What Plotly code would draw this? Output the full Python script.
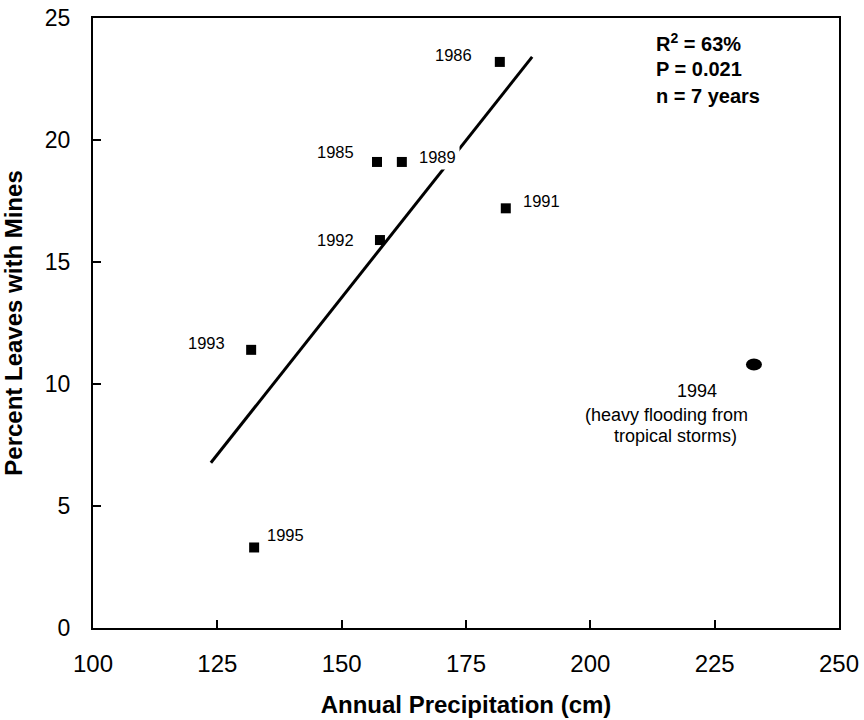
import numpy as np
import plotly.graph_objects as go

years = ["1985", "1986", "1989", "1991", "1992", "1993", "1995"]
precip = [157.1, 181.8, 162.1, 183.0, 157.7, 131.8, 132.4]
pct_mines = [19.1, 23.2, 19.1, 17.2, 15.9, 11.4, 3.3]

# label positions (data units) for each year
label_x = [148.7, 172.4, 169.2, 190.1, 148.7, 122.9, 138.8]
label_y = [19.5, 23.5, 19.3, 17.5, 15.9, 11.7, 3.8]

outlier_year = "1994"
outlier_precip = 232.9
outlier_pct = 10.8
outlier_note = ["1994", "(heavy flooding from", "tropical storms)"]
outlier_note_x = [221.5, 215.3, 217.1]
outlier_note_y = [9.7, 8.75, 7.85]

fit_x_range = [123.7, 188.3]

stats_lines = ["R<sup>2</sup> = 63%", "P = 0.021", "n = 7 years"]
stats_y = [24.0, 22.9, 21.8]
stats_x = 212.8

x_ticks = [100, 125, 150, 175, 200, 225, 250]
y_ticks = [0, 5, 10, 15, 20, 25]

slope, intercept = np.polyfit(precip, pct_mines, 1)
fit_x = np.array(fit_x_range)
fit_y = slope * fit_x + intercept

FONT = "Liberation Sans, Arial, sans-serif"

fig = go.Figure()
fig.add_trace(go.Scatter(x=fit_x, y=fit_y, mode="lines",
                         line=dict(color="black", width=3), showlegend=False,
                         hoverinfo="skip"))
fig.add_trace(go.Scatter(x=precip, y=pct_mines, mode="markers",
                         marker=dict(symbol="square", size=10, color="black"),
                         showlegend=False, text=years))

# ellipse marker for 1994
fig.add_shape(type="circle", xref="x", yref="y", xsizemode="pixel", ysizemode="pixel",
              xanchor=outlier_precip, yanchor=outlier_pct,
              x0=-8, x1=8, y0=-6, y1=6,
              fillcolor="black", line=dict(color="black", width=0))

for yr, lx, ly in zip(years, label_x, label_y):
    fig.add_annotation(x=lx, y=ly, text=yr, showarrow=False, xref="x", yref="y",
                       font=dict(family=FONT, size=16.5, color="black"),
                       bgcolor="white" if yr == "1989" else "rgba(0,0,0,0)",
                       borderpad=3)

for t, nx, ny in zip(outlier_note, outlier_note_x, outlier_note_y):
    fig.add_annotation(x=nx, y=ny, text=t, showarrow=False, xref="x", yref="y",
                       font=dict(family=FONT, size=18, color="black"))

for t, sy in zip(stats_lines, stats_y):
    fig.add_annotation(x=stats_x, y=sy, text="<b>" + t + "</b>", showarrow=False,
                       xref="x", yref="y", xanchor="left",
                       font=dict(family=FONT, size=20, color="black"))

axis_common = dict(showgrid=False, zeroline=False, showline=True, linecolor="black",
                   linewidth=2, mirror=True, ticks="inside", ticklen=8, tickwidth=2,
                   tickcolor="black", automargin=False)

fig.update_xaxes(range=[100, 250], tickvals=x_ticks, ticktext=[str(v) for v in x_ticks],
                 tickfont=dict(family=FONT, size=24, color="black"),
                 title=dict(text="<b>Annual Precipitation (cm)</b>",
                            font=dict(family=FONT, size=24, color="black"), standoff=20),
                 ticklabelstandoff=13, **axis_common)
fig.update_yaxes(range=[0, 25], tickvals=y_ticks, ticktext=[str(v) for v in y_ticks],
                 tickfont=dict(family=FONT, size=23, color="black"),
                 title=dict(text="<b>Percent Leaves with Mines</b>",
                            font=dict(family=FONT, size=24, color="black"), standoff=16),
                 ticklabelstandoff=16, **axis_common)

fig.update_layout(width=864, height=720, paper_bgcolor="white", plot_bgcolor="white",
                  margin=dict(l=93, r=25, t=18, b=92),
                  font=dict(family=FONT, color="black"))

fig.write_html("out.html")
